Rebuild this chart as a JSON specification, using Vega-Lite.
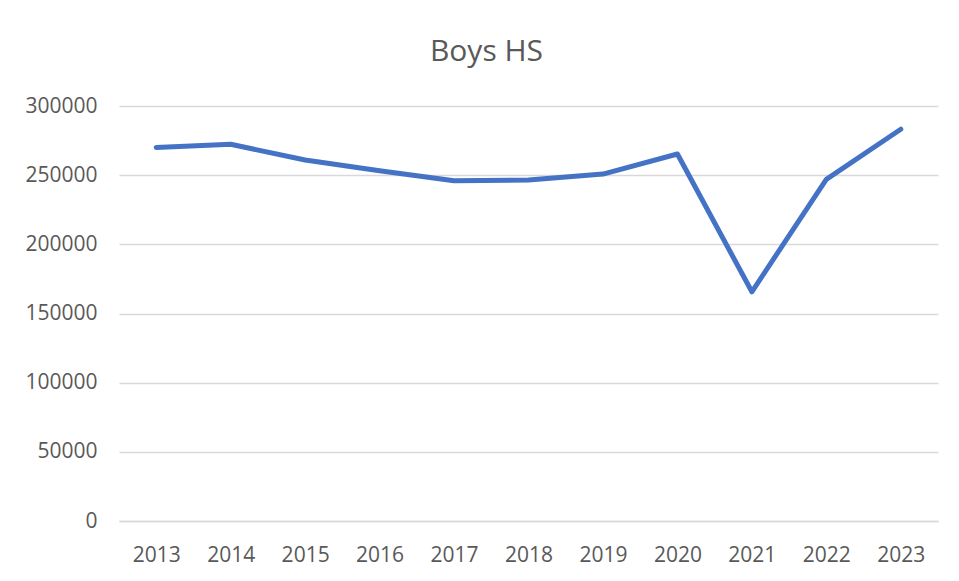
{
  "$schema": "https://vega.github.io/schema/vega-lite/v6.json",
  "autosize": "none",
  "width": 819,
  "height": 415,
  "padding": {"left": 119, "top": 106, "right": 21, "bottom": 60},
  "background": "white",
  "config": {"view": {"stroke": null}, "font": "Open Sans"},
  "title": {
    "text": "Boys HS",
    "font": "Open Sans",
    "fontSize": 30,
    "fontWeight": "normal",
    "color": "#595959",
    "anchor": "middle",
    "baseline": "alphabetic",
    "offset": 4,
    "dx": -42
  },
  "data": {
    "values": [
      {"year": "2013", "value": 270000},
      {"year": "2014", "value": 272300},
      {"year": "2015", "value": 261000},
      {"year": "2016", "value": 253200},
      {"year": "2017", "value": 246000},
      {"year": "2018", "value": 246500},
      {"year": "2019", "value": 250800},
      {"year": "2020", "value": 265300},
      {"year": "2021", "value": 165700},
      {"year": "2022", "value": 247000},
      {"year": "2023", "value": 283200}
    ]
  },
  "mark": {"type": "line", "color": "#4472C4", "strokeWidth": 5, "strokeCap": "round", "strokeJoin": "round"},
  "encoding": {
    "x": {
      "field": "year",
      "type": "ordinal",
      "scale": {"type": "point", "padding": 0.5},
      "axis": {
        "title": null,
        "labelAngle": 0,
        "labelFont": "Open Sans",
        "labelFontSize": 21,
        "labelColor": "#595959",
        "ticks": false,
        "labelPadding": 23,
        "domainColor": "#D9D9D9",
        "domainWidth": 1.5,
        "grid": false
      }
    },
    "y": {
      "field": "value",
      "type": "quantitative",
      "scale": {"domain": [0, 300000], "nice": false},
      "axis": {
        "title": null,
        "values": [0, 50000, 100000, 150000, 200000, 250000, 300000],
        "format": "d",
        "labelFont": "Open Sans",
        "labelFontSize": 21,
        "labelColor": "#595959",
        "ticks": false,
        "domain": false,
        "labelPadding": 22,
        "gridColor": "#D9D9D9",
        "gridWidth": 1.5
      }
    }
  }
}
